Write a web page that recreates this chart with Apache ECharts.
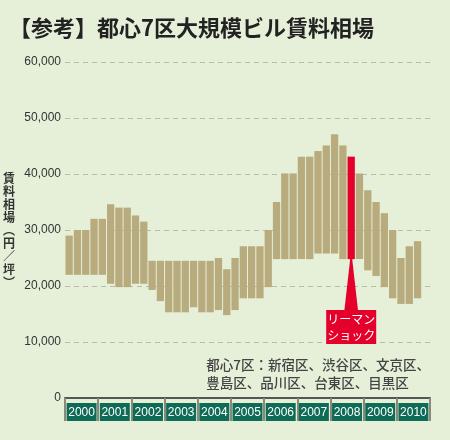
<!DOCTYPE html>
<html><head><meta charset="utf-8">
<script src="https://cdn.jsdelivr.net/npm/echarts@6/dist/echarts.min.js"></script>
<style>html,body{margin:0;padding:0;background:#e6f0d9}#c{width:450px;height:440px}</style>
</head><body><div id="c"></div>
<script>
const years = ['2000','2001','2002','2003','2004','2005','2006','2007','2008','2009','2010'];
const quarters = [];
years.forEach(y => { for (let q = 1; q <= 4; q++) quarters.push(y + 'Q' + q); });
const lows = [22000,22000,22000,22000,22000,20400,19800,19800,20400,20400,
  19300,17300,15300,15300,15300,16200,15300,15300,15700,14800,
  15700,17800,17800,17800,19800,24800,24800,24800,24800,24800,
  25800,25800,25800,24800,24800,24800,22800,21800,19800,17800,
  16800,16800,17800,null];
const highs = [29000,30000,30000,32000,32000,34600,34000,34000,32600,31500,
  24500,24500,24500,24500,24500,24500,24500,24500,25000,23000,
  25000,27100,27100,27100,30000,35000,40100,40100,43100,43100,
  44100,45100,47100,45100,43100,40100,37100,35000,33000,30000,
  25000,27100,28000,null];
const yTicks = [0,10000,20000,30000,40000,50000,60000];
const shockIndex = 34;

const chart = echarts.init(document.getElementById('c'));
chart.setOption({
  backgroundColor: '#e6f0d9',
  animation: false,
  title: { text: '【参考】都心7区大規模ビル賃料相場', left: 4, top: 12,
    textStyle: { fontFamily: 'Noto Sans CJK JP', fontSize: 22, fontWeight: 'bold', color: '#222' } },
  grid: { left: 62, right: 20, top: 62, bottom: 42 },
  xAxis: [
    { type: 'category', data: quarters, axisLine: { lineStyle: { color: '#555', width: 2 } },
      axisTick: { show: false }, axisLabel: { show: false } },
    { type: 'category', data: years, position: 'bottom', axisLine: { show: false },
      axisTick: { show: true, length: 23, interval: 0, lineStyle: { color: '#8a8a7a', width: 2 } },
      axisLabel: { interval: 0, margin: 5, color: '#fff', fontFamily: 'Liberation Sans Narrow, Liberation Sans', fontSize: 12,
        backgroundColor: '#0e6b56', width: 30, align: 'center', padding: [3, 0, 2, 0], lineHeight: 13 } }
  ],
  yAxis: {
    type: 'value', min: yTicks[0], max: yTicks[yTicks.length - 1], interval: 10000,
    name: '賃\n料\n相\n場\n︵\n円\n／\n坪\n︶', nameLocation: 'middle', nameGap: 50, nameRotate: 0,
    nameTextStyle: { fontFamily: 'Noto Sans CJK JP', fontSize: 12, color: '#333', fontWeight: 'bold', lineHeight: 13 },
    axisLine: { show: false }, axisTick: { show: false },
    axisLabel: { color: '#333', fontSize: 12, fontFamily: 'Liberation Sans Narrow, Liberation Sans', margin: 4,
      formatter: v => v.toLocaleString('en-US') },
    splitLine: { lineStyle: { color: '#bbbbaa', type: [5, 4] } }
  },
  series: [
    { type: 'bar', stack: 'r', data: lows, itemStyle: { color: 'transparent' }, barCategoryGap: '12%', silent: true },
    { type: 'bar', stack: 'r', barCategoryGap: '12%',
      data: highs.map((h, i) => h == null ? null : {
        value: h - lows[i],
        itemStyle: { color: i === shockIndex ? '#e4002b' : '#b8ab7d' } }) }
  ]
});

const px = chart.convertToPixel({ xAxisIndex: 0 }, quarters[shockIndex]);
const py = chart.convertToPixel({ yAxisIndex: 0 }, lows[shockIndex]);
chart.setOption({ graphic: [
  { type: 'polygon', shape: { points: [[px - 1, py], [px + 1, py], [px + 7, 312], [px - 7, 312]] }, style: { fill: '#e4002b' } },
  { type: 'rect', shape: { x: px - 25, y: 310, width: 50, height: 34 }, style: { fill: '#e4002b' } },
  { type: 'text', x: px, y: 327, style: { text: 'リーマン\nショック', fill: '#fff', align: 'center', verticalAlign: 'middle',
      font: '12px "Noto Sans CJK JP"', lineHeight: 16 } },
  { type: 'text', right: 20, top: 356, style: { text: '都心7区：新宿区、渋谷区、文京区、\n豊島区、品川区、台東区、目黒区', fill: '#444',
      align: 'right', font: '500 13.5px "Noto Sans CJK JP"', lineHeight: 18 } }
] });
</script></body></html>
